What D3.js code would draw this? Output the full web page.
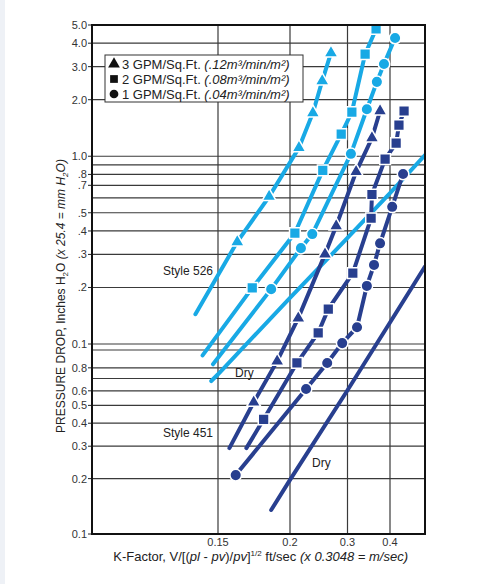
<!DOCTYPE html>
<html>
<head>
<meta charset="utf-8">
<script src="https://cdn.jsdelivr.net/npm/d3@7"></script>
<style>
  body { margin: 0; background: #fff; }
  svg { display: block; font-family: "Liberation Sans", Arial, sans-serif; }
</style>
</head>
<body>
<div id="chart"></div>
<script>
// axis ticks
const xTicks = [0.15, 0.2, 0.3, 0.4];
const xTickLabels = ["0.15", "0.2", "0.3", "0.4"];
const yHiTicks = [5, 4, 3, 2, 1, 0.8, 0.7, 0.5, 0.4, 0.3, 0.2, 0.1];
const yHiLabels = ["5.0", "4.0", "3.0", "2.0", "1.0", ".8", ".7", ".5", ".4", ".3", ".2", "0.1"];
const yHiGrid = [5, 4, 3, 2, 1, 0.9, 0.8, 0.7, 0.6, 0.5, 0.4, 0.3, 0.2, 0.1];
const yLoTicks = [0.8, 0.6, 0.5, 0.4, 0.3, 0.2, 0.1];
const yLoLabels = ["0.8", "0.6", "0.5", "0.4", "0.3", "0.2", "0.1"];
const yLoGrid = [1, 0.8, 0.7, 0.6, 0.5, 0.4, 0.3, 0.2, 0.1];

// Style 526 (upper pressure scale) - [K-factor, in. H2O]
const s526_3gpm = [[0.162, 0.35], [0.184, 0.61], [0.213, 1.11], [0.235, 1.70], [0.251, 2.52], [0.267, 3.55]];
const s526_3gpm_start = [0.137, 0.144];
const s526_2gpm = [[0.172, 0.199], [0.207, 0.39], [0.252, 0.84], [0.287, 1.31], [0.309, 1.72], [0.338, 3.5], [0.364, 4.76]];
const s526_2gpm_start = [0.141, 0.087];
const s526_1gpm = [[0.1855, 0.196], [0.216, 0.324], [0.234, 0.385], [0.307, 1.03], [0.342, 1.78], [0.366, 2.49], [0.384, 3.10], [0.414, 4.26]];
const s526_1gpm_start = [0.147, 0.078];
const s526_dry = [[0.146, 0.0635], [0.15, 0.069], [0.2, 0.176], [0.3, 0.367], [0.4, 0.637], [0.507, 1.015]];

// Style 451 (lower pressure scale)
const s451_3gpm = [[0.173, 0.52], [0.190, 0.87], [0.212, 1.49], [0.256, 3.32], [0.277, 4.72], [0.318, 9.3], [0.354, 14.2], [0.374, 19.9]];
const s451_3gpm_start = [0.157, 0.293];
const s451_2gpm = [[0.180, 0.42], [0.210, 0.85], [0.244, 1.24], [0.262, 1.67], [0.311, 2.62], [0.352, 5.2], [0.354, 7.0], [0.387, 10.9], [0.417, 13.3], [0.425, 16.7], [0.440, 19.9]];
const s451_2gpm_start = [0.168, 0.293];
const s451_1gpm = [[0.161, 0.209], [0.224, 0.614], [0.260, 0.85], [0.289, 1.09], [0.320, 1.33], [0.342, 2.23], [0.359, 2.9], [0.374, 3.8], [0.406, 6.0], [0.437, 9.05]];
const s451_dry = [[0.1855, 0.135], [0.2, 0.197], [0.3, 0.604], [0.4, 1.41], [0.507, 2.84]];

const legendItems = [
  { sym: d3.symbolTriangle, a: "3 GPM/Sq.Ft. ", b: "(.12m³/min/m²)" },
  { sym: d3.symbolSquare, a: "2 GPM/Sq.Ft. ", b: "(.08m³/min/m²)" },
  { sym: d3.symbolCircle, a: "1 GPM/Sq.Ft. ", b: "(.04m³/min/m²)" }
];

const cyan = "#18a9e5";
const navy = "#283f8f";

const W = 479, H = 584;
const plot = { left: 92, right: 425, top: 25, bottom: 534 };

const svg = d3.select("#chart").append("svg").attr("width", W).attr("height", H);
svg.append("rect").attr("width", 5).attr("height", H).attr("fill", "#eef1f6");

// the K-factor axis is drawn unevenly in the original, so the log scale is piecewise
const x = d3.scaleLog()
  .domain([0.0905, 0.15, 0.2, 0.3, 0.4, 0.507])
  .range([plot.left, 218, 290, 347.5, 390, plot.right]);
const yHi = d3.scaleLog().domain([0.1, 5]).range([344, plot.top]);
const yLo = d3.scaleLog().domain([0.1, 1]).range([plot.bottom, 350]);

// grid
const grid = svg.append("g").attr("stroke", "#3a3a3a").attr("stroke-width", 1.2);
grid.selectAll(".gh").data(yHiGrid).enter().append("line")
  .attr("x1", plot.left).attr("x2", plot.right)
  .attr("y1", d => yHi(d)).attr("y2", d => yHi(d));
grid.selectAll(".gl").data(yLoGrid).enter().append("line")
  .attr("x1", plot.left).attr("x2", plot.right)
  .attr("y1", d => yLo(d)).attr("y2", d => yLo(d));
grid.selectAll(".gv").data(xTicks).enter().append("line")
  .attr("x1", d => x(d)).attr("x2", d => x(d))
  .attr("y1", plot.top).attr("y2", plot.bottom);

// y tick labels
const yLab = svg.append("g").attr("font-size", 11).attr("fill", "#333").attr("text-anchor", "end");
yHiTicks.forEach((v, i) => {
  yLab.append("text").attr("x", 87).attr("y", yHi(v)).attr("dy", "0.36em").text(yHiLabels[i]);
  svg.append("line").attr("x1", 88).attr("x2", plot.left).attr("y1", yHi(v)).attr("y2", yHi(v)).attr("stroke", "#222");
});
yLoTicks.forEach((v, i) => {
  yLab.append("text").attr("x", 87).attr("y", yLo(v)).attr("dy", "0.36em").text(yLoLabels[i]);
  svg.append("line").attr("x1", 88).attr("x2", plot.left).attr("y1", yLo(v)).attr("y2", yLo(v)).attr("stroke", "#222");
});

// x tick labels
svg.append("g").attr("font-size", 11).attr("fill", "#333").attr("text-anchor", "middle")
  .selectAll("text").data(xTicks).enter().append("text")
  .attr("x", d => x(d)).attr("y", 546)
  .text((d, i) => xTickLabels[i]);

// axis titles
const xt = svg.append("text").attr("x", 408).attr("y", 561).attr("text-anchor", "end")
  .attr("font-size", 13).attr("fill", "#222");
xt.append("tspan").text("K-Factor, V/[(");
xt.append("tspan").attr("font-style", "italic").text("pl");
xt.append("tspan").text(" - ");
xt.append("tspan").attr("font-style", "italic").text("pv");
xt.append("tspan").text(")/");
xt.append("tspan").attr("font-style", "italic").text("pv");
xt.append("tspan").text("]");
xt.append("tspan").attr("font-size", 8).attr("dy", -5).text("1/2");
xt.append("tspan").attr("dy", 5).text(" ft/sec ");
xt.append("tspan").attr("font-style", "italic").text("(x 0.3048 = m/sec)");

const yt = svg.append("text").attr("transform", "translate(65,296) rotate(-90)")
  .attr("text-anchor", "middle").attr("font-size", 12).attr("fill", "#222");
yt.append("tspan").text("PRESSURE DROP, Inches H");
yt.append("tspan").attr("font-size", 8).attr("dy", 3).text("2");
yt.append("tspan").attr("dy", -3).text("O ");
yt.append("tspan").attr("font-style", "italic").text("(x 25.4 = mm H");
yt.append("tspan").attr("font-style", "italic").attr("font-size", 8).attr("dy", 3).text("2");
yt.append("tspan").attr("font-style", "italic").attr("dy", -3).text("O)");

// curves
svg.append("clipPath").attr("id", "clip").append("rect")
  .attr("x", plot.left).attr("y", plot.top)
  .attr("width", plot.right - plot.left).attr("height", plot.bottom - plot.top);
const marks = svg.append("g").attr("clip-path", "url(#clip)");

const series = [
  { pts: s526_dry, y: yHi, color: cyan },
  { pts: s451_dry, y: yLo, color: navy },
  { start: s526_3gpm_start, pts: s526_3gpm, y: yHi, color: cyan, sym: d3.symbolTriangle },
  { start: s526_2gpm_start, pts: s526_2gpm, y: yHi, color: cyan, sym: d3.symbolSquare },
  { start: s526_1gpm_start, pts: s526_1gpm, y: yHi, color: cyan, sym: d3.symbolCircle },
  { start: s451_3gpm_start, pts: s451_3gpm, y: yLo, color: navy, sym: d3.symbolTriangle },
  { start: s451_2gpm_start, pts: s451_2gpm, y: yLo, color: navy, sym: d3.symbolSquare },
  { pts: s451_1gpm, y: yLo, color: navy, sym: d3.symbolCircle }
];
const symSize = new Map([[d3.symbolTriangle, 85], [d3.symbolSquare, 115], [d3.symbolCircle, 105]]);

series.forEach(s => {
  const linePts = s.start ? [s.start, ...s.pts] : s.pts;
  const line = d3.line().x(d => x(d[0])).y(d => s.y(d[1]));
  marks.append("path").datum(linePts)
    .attr("d", line).attr("fill", "none")
    .attr("stroke", s.color).attr("stroke-width", 4).attr("stroke-linecap", "round");
});
series.filter(s => s.sym).forEach(s => {
  marks.selectAll(null).data(s.pts).enter().append("path")
    .attr("d", d3.symbol().type(s.sym).size(symSize.get(s.sym)))
    .attr("transform", d => `translate(${x(d[0])},${s.y(d[1])})`)
    .attr("fill", s.color).attr("stroke", "#fff").attr("stroke-width", 1.5);
});

// frame
svg.append("rect").attr("x", plot.left).attr("y", plot.top)
  .attr("width", plot.right - plot.left).attr("height", plot.bottom - plot.top)
  .attr("fill", "none").attr("stroke", "#111").attr("stroke-width", 2);

// annotations
const notes = [
  { t: "Style 526", x: 163, y: 275 },
  { t: "Style 451", x: 163, y: 437 },
  { t: "Dry", x: 235, y: 377 },
  { t: "Dry", x: 312, y: 467 }
];
svg.append("g").attr("font-size", 12).attr("fill", "#222")
  .selectAll("text").data(notes).enter().append("text")
  .attr("x", d => d.x).attr("y", d => d.y).text(d => d.t);

// legend
const lg = svg.append("g");
lg.append("rect").attr("x", 105).attr("y", 55).attr("width", 198).attr("height", 47)
  .attr("fill", "#fff").attr("stroke", "#333").attr("stroke-width", 1);
legendItems.forEach((d, i) => {
  const cy = 64 + i * 15;
  lg.append("path").attr("d", d3.symbol().type(d.sym).size(60))
    .attr("transform", `translate(114,${cy})`).attr("fill", "#111");
  const t = lg.append("text").attr("x", 122).attr("y", cy).attr("dy", "0.36em")
    .attr("font-size", 13).attr("fill", "#222");
  t.append("tspan").text(d.a);
  t.append("tspan").attr("font-style", "italic").text(d.b);
});
</script>
</body>
</html>
